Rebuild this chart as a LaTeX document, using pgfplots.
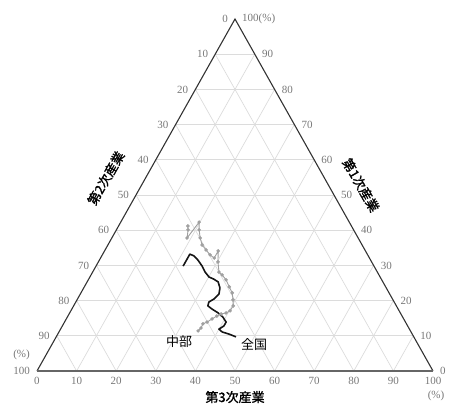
\documentclass[border=0pt]{standalone}
\usepackage{fontspec}
\usepackage{pgfplots}
\usepackage{pgfplotstable}
\pgfplotsset{compat=1.18}
\setmainfont{Liberation Serif}
\newfontfamily\jp{Noto Sans CJK JP}
\newfontfamily\jpb{Noto Sans CJK JP}[FakeBold=1.5]

\definecolor{ticktext}{HTML}{777777}
\definecolor{gridc}{HTML}{DCDCDC}
\definecolor{chubu}{HTML}{A0A0A0}
\definecolor{zenkoku}{HTML}{151515}

% shares of employment: t1 = primary, t2 = secondary, t3 = tertiary (%)
\pgfplotstableread{
t1   t2   t3
41.2 41.3 17.5
40.1 41.8 18.1
37.8 43.2 19.0
42.3 37.9 19.8
40.1 39.0 20.9
37.8 39.9 22.3
35.8 40.4 23.8
34.4 40.1 25.5
33.0 39.8 27.2
32.1 39.2 28.7
34.1 37.2 28.7
31.0 38.8 30.2
28.1 40.0 31.9
27.3 39.6 33.1
25.9 39.3 34.8
23.9 39.5 36.6
22.2 39.6 38.2
20.2 40.4 39.4
18.5 41.2 40.3
17.1 42.7 40.2
16.5 44.0 39.5
16.2 45.4 38.4
15.6 46.8 37.6
14.8 48.4 36.8
13.9 50.1 36.0
13.4 51.4 35.2
12.2 52.5 35.3
11.4 53.6 35.0
}\chubudata

\pgfplotstableread{
t1   t2   t3
29.8 48.2 22.0
31.8 46.2 22.0
33.2 44.7 22.0
32.7 44.0 23.3
31.5 43.6 24.9
29.8 43.4 26.8
28.1 43.5 28.4
26.7 43.2 30.1
26.1 42.2 31.6
25.3 41.6 33.1
23.6 42.0 34.4
21.9 43.1 35.0
20.5 45.0 34.5
19.6 46.8 33.6
18.5 47.6 33.9
17.6 47.0 35.4
16.5 46.0 37.5
15.3 45.4 39.3
13.9 45.3 40.8
12.8 46.4 40.8
11.9 48.1 40.0
11.1 47.7 41.2
10.5 46.3 43.2
9.7  44.9 45.4
}\zenkokudata

\tikzset{
  tl/.style={font=\fontsize{11}{12}\selectfont, text=ticktext, inner sep=0pt},
  gl/.style={gridc, line width=0.7pt},
}

\begin{document}
\begin{tikzpicture}
\path[use as bounding box] (0,0) rectangle (449pt,405pt);
\begin{axis}[
  at={(37pt,34pt)}, anchor=south west,
  scale only axis, width=396pt, height=352pt,
  xmin=0, xmax=100, ymin=0, ymax=100,
  hide axis, clip=false,
]
% triangular grid, every 10 %
\pgfplotsinvokeforeach{1,...,9}{
  \draw[gl] (axis cs:{5*#1},{10*#1}) -- (axis cs:{100-5*#1},{10*#1});
  \draw[gl] (axis cs:{10*#1},0) -- (axis cs:{50+5*#1},{100-10*#1});
  \draw[gl] (axis cs:{100-10*#1},0) -- (axis cs:{50-5*#1},{100-10*#1});
}
% tick labels: bottom (tertiary), left (secondary), right (primary)
\pgfplotsinvokeforeach{0,...,10}{
  \node[tl, anchor=north] at (axis cs:{10*#1},0) [yshift=-6pt] {\the\numexpr10*#1\relax};
  \node[tl, anchor=east] at (axis cs:{50-5*#1},{100-10*#1}) [xshift=-7pt] {\the\numexpr10*#1\relax};
}
\pgfplotsinvokeforeach{0,...,9}{
  \node[tl, anchor=west] at (axis cs:{100-5*#1},{10*#1}) [xshift=7pt] {\the\numexpr10*#1\relax};
}
\node[tl, anchor=west] at (axis cs:50,100) [xshift=7pt] {100(\%)};
\node[tl, anchor=east] at (axis cs:0,0) [xshift=-7pt, yshift=16pt] {(\%)};
\node[tl, anchor=north] at (axis cs:100,0) [xshift=3pt, yshift=-20pt] {(\%)};

% trajectories
\addplot[zenkoku, line width=1.6pt, line join=round, no markers]
  table[x expr=\thisrow{t3}+0.5*\thisrow{t1}, y expr=\thisrow{t1}] {\zenkokudata};
\addplot[chubu, line width=0.9pt, mark=*, mark size=1.3pt, mark options={fill=chubu, draw=chubu}]
  table[x expr=\thisrow{t3}+0.5*\thisrow{t1}, y expr=\thisrow{t1}] {\chubudata};

% triangle frame
\draw[black!80, line width=1.1pt, line join=miter] (axis cs:0,0) -- (axis cs:50,100) -- (axis cs:100,0);
\draw[black!60, line width=1.8pt] (axis cs:0,0) -- (axis cs:100,0);

% axis titles and series names
\node[font=\jpb\fontsize{13}{14}\selectfont, rotate=60] at (axis cs:17.4,54.8) {第2次産業};
\node[font=\jpb\fontsize{13}{14}\selectfont, rotate=-60] at (axis cs:81.8,52.8) {第1次産業};
\node[font=\jpb\fontsize{13}{14}\selectfont] at (axis cs:50,-7.4) {第3次産業};
\node[font=\jp\fontsize{13}{14}\selectfont] at (axis cs:35.9,8.5) {中部};
\node[font=\jp\fontsize{13}{14}\selectfont] at (axis cs:54.8,7.4) {全国};
\end{axis}
\end{tikzpicture}
\end{document}
